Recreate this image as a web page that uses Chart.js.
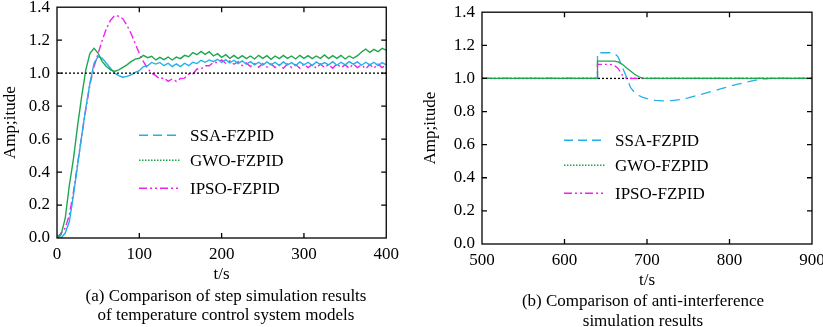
<!DOCTYPE html>
<html>
<head>
<meta charset="utf-8">
<script src="https://cdn.jsdelivr.net/npm/chart.js@4.4.0/dist/chart.umd.min.js"></script>
<style>
body { margin: 0; background: #fff; }
#wrap { position: relative; width: 823px; height: 327px; overflow: hidden; font-family: "Liberation Serif", serif; }
#c1 { position: absolute; left: 0; top: -10px; }
#c2 { position: absolute; left: 420px; top: -5px; }
.cap { position: absolute; font-size: 17px; text-align: center; color: #000; white-space: nowrap; }
</style>
</head>
<body>
<div id="wrap">
  <canvas id="c1" width="405" height="300"></canvas>
  <canvas id="c2" width="420" height="300"></canvas>
  <div class="cap" style="left:26px; top:286px; width:400px; line-height:19px;">(a) Comparison of step simulation results<br>of temperature control system models</div>
  <div class="cap" style="left:443px; top:291px; width:400px; line-height:20px;">(b) Comparison of anti-interference<br>simulation results</div>
</div>
<script>
const seriesNames = ['SSA-FZPID', 'GWO-FZPID', 'IPSO-FZPID'];
const yTicks = [0, 0.2, 0.4, 0.6, 0.8, 1.0, 1.2, 1.4];

// (a) step response, t = 0..400 s
const leftTime = [0,5,10,15,20,25,30,35,40,45,50,55,60,65,70,75,80,85,90,95,100,105,110,115,120,125,130,135,140,145,150,155,160,165,170,175,180,185,190,195,200,205,210,215,220,225,230,235,240,245,250,255,260,265,270,275,280,285,290,295,300,305,310,315,320,325,330,335,340,345,350,355,360,365,370,375,380,385,390,395,400];
const ssaLeft = [0.02,0.00,0.03,0.10,0.26,0.44,0.62,0.79,0.94,1.06,1.10,1.09,1.06,1.03,1.00,0.985,0.975,0.98,0.99,1.005,
  1.015,1.04,1.045,1.065,1.055,1.065,1.045,1.06,1.04,1.056,1.04,1.06,1.045,1.066,1.058,1.078,1.066,1.08,1.07,1.084,
  1.065,1.082,1.062,1.078,1.058,1.074,1.054,1.07,1.05,1.066,1.048,1.068,1.05,1.066,1.046,1.068,1.05,1.064,1.046,1.068,
  1.05,1.066,1.046,1.068,1.052,1.064,1.05,1.07,1.048,1.066,1.05,1.07,1.055,1.068,1.048,1.066,1.05,1.066,1.046,1.064,1.05];
const gwoLeft = [0.00,0.02,0.12,0.32,0.48,0.68,0.86,1.02,1.12,1.15,1.12,1.07,1.04,1.02,1.01,1.02,1.035,1.05,1.07,1.085,
  1.09,1.108,1.094,1.102,1.08,1.096,1.082,1.098,1.08,1.097,1.088,1.108,1.10,1.125,1.112,1.132,1.114,1.13,1.104,1.118,
  1.096,1.112,1.09,1.108,1.088,1.106,1.088,1.104,1.086,1.108,1.09,1.106,1.084,1.104,1.088,1.108,1.09,1.104,1.086,1.108,
  1.09,1.106,1.088,1.104,1.09,1.11,1.088,1.106,1.09,1.108,1.086,1.104,1.09,1.106,1.128,1.146,1.126,1.144,1.13,1.15,1.14];
const ipsoLeft = [0.00,0.03,0.06,0.14,0.28,0.45,0.62,0.78,0.93,1.04,1.12,1.20,1.27,1.32,1.35,1.345,1.33,1.29,1.24,1.18,
  1.12,1.07,1.03,1.00,0.985,0.965,0.972,0.95,0.965,0.95,0.968,0.97,0.995,0.995,1.025,1.025,1.045,1.045,1.065,1.065,
  1.08,1.06,1.074,1.054,1.07,1.046,1.062,1.04,1.058,1.036,1.058,1.036,1.056,1.034,1.052,1.03,1.056,1.034,1.052,1.03,
  1.056,1.034,1.052,1.03,1.056,1.034,1.052,1.03,1.056,1.034,1.05,1.03,1.056,1.034,1.05,1.026,1.052,1.03,1.056,1.034,1.048];
const refLeftTime = [0, 400];
const refLeft = [1, 1];

// (b) disturbance at t = 640 s
const rightTime = [500,640,640,645,650,655,660,665,670,675,680,685,690,695,700,710,720,730,740,750,760,770,780,790,800,810,820,830,840,850,870,900];
const ssaRight = [1,1,1.155,1.155,1.155,1.155,1.155,1.13,1.07,1.01,0.945,0.915,0.897,0.886,0.878,0.868,0.865,0.866,0.872,0.882,0.896,0.91,0.924,0.938,0.952,0.965,0.977,0.988,0.996,1.0,1.0,1.0];
const gwoRight = [1,1,1.105,1.105,1.105,1.105,1.105,1.10,1.085,1.065,1.045,1.025,1.01,1.002,1,1,1,1,1,1,1,1,1,1,1,1,1,1,1,1,1,1];
const ipsoRight = [1,1,1.085,1.085,1.085,1.085,1.08,1.06,1.02,1.0,1,1,1,1,1,1,1,1,1,1,1,1,1,1,1,1,1,1,1,1,1,1];
const refRightTime = [500, 900];
const refRight = [1, 1];

const blue = '#22b0e6';
const green = '#1ea64e';
const magenta = '#f020f0';
const font = { family: '"Liberation Serif", serif', size: 17 };

function pts(xs, ys) {
  return xs.map((x, i) => ({ x: x, y: ys[i] }));
}

// frame with inward tick marks on all four sides
const frameTicks = {
  id: 'frameTicks',
  afterDatasetsDraw(chart) {
    const { ctx, chartArea: a, scales: { x, y } } = chart;
    const len = 5;
    ctx.save();
    ctx.strokeStyle = '#000';
    ctx.lineWidth = 1.3;
    ctx.beginPath();
    x.ticks.forEach(t => {
      const px = x.getPixelForValue(t.value);
      if (px <= a.left + 1 || px >= a.right - 1) return;
      ctx.moveTo(px, a.bottom); ctx.lineTo(px, a.bottom - len);
      ctx.moveTo(px, a.top); ctx.lineTo(px, a.top + len);
    });
    y.ticks.forEach(t => {
      const py = y.getPixelForValue(t.value);
      if (py <= a.top + 1 || py >= a.bottom - 1) return;
      ctx.moveTo(a.left, py); ctx.lineTo(a.left + len, py);
      ctx.moveTo(a.right, py); ctx.lineTo(a.right - len, py);
    });
    ctx.stroke();
    ctx.strokeRect(a.left, a.top, a.right - a.left, a.bottom - a.top);
    ctx.restore();
  }
};

// legend drawn inside the plot area
const inLegend = {
  id: 'inLegend',
  afterDraw(chart, args, opts) {
    const { ctx, chartArea: a } = chart;
    ctx.save();
    ctx.font = '17px "Liberation Serif", serif';
    ctx.textBaseline = 'middle';
    ctx.fillStyle = '#000';
    opts.items.forEach((it, i) => {
      const y = a.top + opts.rows[i];
      ctx.strokeStyle = it.color;
      ctx.lineWidth = 1.4;
      ctx.setLineDash(it.dash);
      ctx.beginPath();
      ctx.moveTo(a.left + opts.x0, y);
      ctx.lineTo(a.left + opts.x1, y);
      ctx.stroke();
      ctx.setLineDash([]);
      ctx.fillText(it.label, a.left + opts.tx, y + 1);
    });
    ctx.restore();
  }
};

const legendItems = [
  { label: seriesNames[0], color: blue, dash: [9, 5] },
  { label: seriesNames[1], color: green, dash: [1.5, 1.5] },
  { label: seriesNames[2], color: magenta, dash: [8, 3, 2, 3, 2, 3] }
];

function makeOptions(xmin, xmax, yWidth, xHeight, pad, titlePad) {
  return {
    responsive: false,
    animation: false,
    layout: { padding: pad },
    scales: {
      x: {
        type: 'linear', min: xmin, max: xmax,
        grid: { display: false, drawTicks: false },
        border: { display: false },
        ticks: { stepSize: 100, color: '#000', font: font, padding: 6, maxRotation: 0 },
        title: { display: true, text: 't/s', color: '#000', font: font, padding: { top: 0, bottom: titlePad } },
        afterFit: s => { s.height = xHeight; }
      },
      y: {
        min: 0, max: 1.4,
        afterBuildTicks: s => { s.ticks = yTicks.map(v => ({ value: v })); },
        grid: { display: false, drawTicks: false },
        border: { display: false },
        ticks: { color: '#000', font: font, padding: 7, callback: v => v.toFixed(1) },
        title: { display: true, text: 'Amp;itude', color: '#000', font: font, padding: 0 },
        afterFit: s => { s.width = yWidth; }
      }
    },
    plugins: {
      legend: { display: false },
      tooltip: { enabled: false },
      inLegend: { items: legendItems, x0: 82, x1: 124, tx: 133, rows: [128, 153, 181] }
    }
  };
}

const lineBase = { pointRadius: 0, borderWidth: 1.3, tension: 0, fill: false };

new Chart(document.getElementById('c1'), {
  type: 'line',
  data: {
    datasets: [
      Object.assign({}, lineBase, { label: 'ref', data: pts(refLeftTime, refLeft), borderColor: '#000', borderDash: [2, 2], order: 0 }),
      Object.assign({}, lineBase, { label: seriesNames[2], data: pts(leftTime, ipsoLeft), borderColor: magenta, borderDash: [8, 3, 2, 3], borderWidth: 1.4, order: 3 }),
      Object.assign({}, lineBase, { label: seriesNames[0], data: pts(leftTime, ssaLeft), borderColor: blue, borderWidth: 1.4, order: 2 }),
      Object.assign({}, lineBase, { label: seriesNames[1], data: pts(leftTime, gwoLeft), borderColor: green, borderWidth: 1.4, order: 1 })
    ]
  },
  options: makeOptions(0, 400, 57, 52, { top: 15, right: 17, left: 0, bottom: 0 }, 5),
  plugins: [frameTicks, inLegend]
});

new Chart(document.getElementById('c2'), {
  type: 'line',
  data: {
    datasets: [
      Object.assign({}, lineBase, { label: 'ref', data: pts(refRightTime, refRight), borderColor: '#000', borderDash: [2, 2], order: 4 }),
      Object.assign({}, lineBase, { label: seriesNames[0], data: pts(rightTime, ssaRight), borderColor: blue, borderDash: [10, 6], order: 3 }),
      Object.assign({}, lineBase, { label: seriesNames[2], data: pts(rightTime, ipsoRight), borderColor: magenta, borderDash: [8, 3, 2, 3, 2, 3], order: 2 }),
      Object.assign({}, lineBase, { label: seriesNames[1], data: pts(rightTime, gwoRight), borderColor: green, order: 1 })
    ]
  },
  options: makeOptions(500, 900, 62, 51, { top: 17, right: 28, left: 0, bottom: 0 }, 4),
  plugins: [frameTicks, inLegend]
});
</script>
</body>
</html>
